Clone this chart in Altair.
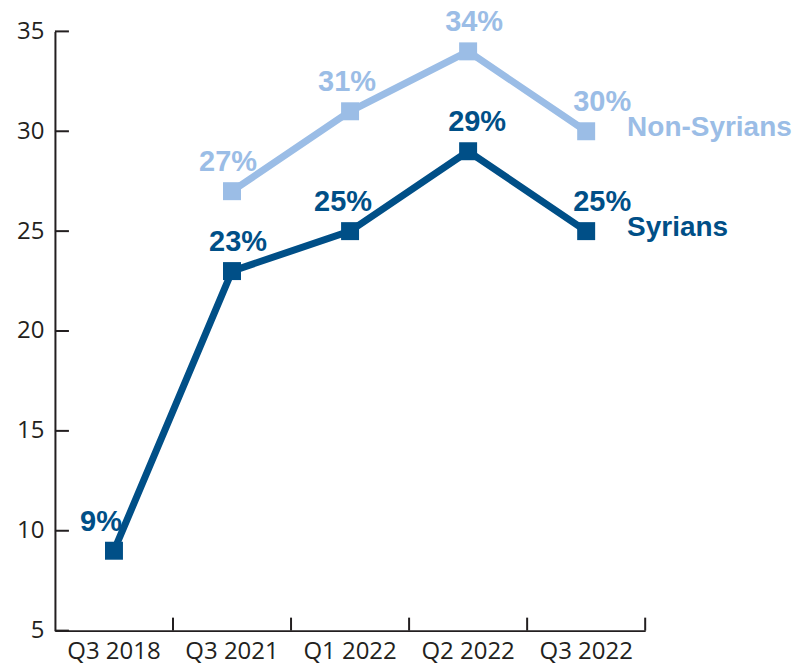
import altair as alt
import pandas as pd

quarters = ["Q3 2018", "Q3 2021", "Q1 2022", "Q2 2022", "Q3 2022"]
syrians = [9, 23, 25, 29, 25]
non_syrians = [None, 27, 31, 34, 30]
syr_label_dx = [-13, 6, -7, 9, 16]
non_label_dx = [0, -4, -3, 6, 16]
y_ticks = [5, 10, 15, 20, 25, 30, 35]
series_names = ["Syrians", "Non-Syrians"]
series_colors = ["#004f87", "#9bbde6"]

rows = []
for i, q in enumerate(quarters):
    rows.append({"quarter": q, "series": "Syrians", "value": syrians[i],
                 "dx": syr_label_dx[i], "last": i == len(quarters) - 1})
    if non_syrians[i] is not None:
        rows.append({"quarter": q, "series": "Non-Syrians", "value": non_syrians[i],
                     "dx": non_label_dx[i], "last": i == len(quarters) - 1})
df = pd.DataFrame(rows)
df["label"] = df["value"].astype(int).astype(str) + "%"
df["key"] = df["series"] + "|" + df["quarter"]

ticks_df = pd.DataFrame({"t": y_ticks})
cats_df = pd.DataFrame({"quarter": quarters})

AX = "#231f20"
xscale = alt.Scale(type="band", domain=quarters, paddingInner=0, paddingOuter=0)
yscale = alt.Scale(domain=[5, 35], nice=False, zero=False)
color = alt.Color("series:N", scale=alt.Scale(domain=series_names, range=series_colors), legend=None)

x_enc = alt.X("quarter:N", scale=xscale, sort=quarters,
              axis=alt.Axis(title=None, ticks=False, tickSize=0, labelFont="Open Sans",
                            labelFontSize=24, labelColor=AX, labelPadding=9,
                            labelAlign="center", labelBaseline="top", bandPosition=0.5,
                            domainColor=AX, domainWidth=2, labelAngle=0))
y_enc = alt.Y("value:Q", scale=yscale,
              axis=alt.Axis(title=None, ticks=False, tickSize=0, values=y_ticks, grid=False,
                            labelFont="Open Sans", labelFontSize=24, labelColor=AX,
                            labelPadding=11, domainColor=AX, domainWidth=2))
xs = alt.X("quarter:N", scale=xscale, sort=quarters)
ys = alt.Y("value:Q", scale=yscale)

base = alt.Chart(df)

lines = base.mark_line(strokeWidth=7).encode(x=x_enc, y=y_enc, color=color, detail="series:N")
points = base.mark_point(shape="square", size=324, filled=True, opacity=1).encode(
    x=xs, y=ys, color=color)

label_layers = []
for _, r in df.iterrows():
    label_layers.append(
        base.transform_filter(alt.datum.key == r["key"]).mark_text(
            font="Liberation Sans", fontWeight="bold", fontSize=29,
            baseline="alphabetic", align="center", dx=int(r["dx"]), dy=-20).encode(
            x=xs, y=ys, color=color, text="label:N"))

names = base.transform_filter("datum.last").mark_text(
    font="Liberation Sans", fontWeight="bold", fontSize=28, baseline="middle",
    align="left", dx=41, dy=-3).encode(x=xs, y=ys, color=color, text="series:N")

ytick_rules = alt.Chart(ticks_df).mark_rule(color=AX, strokeWidth=2).encode(
    y=alt.Y("t:Q", scale=yscale), x=alt.value(0), x2=alt.value(14))
xtick_rules = alt.Chart(cats_df).mark_rule(color=AX, strokeWidth=2).encode(
    x=alt.X("quarter:N", scale=xscale, sort=quarters, bandPosition=1),
    y=alt.value(587), y2=alt.value(600))

chart = alt.layer(lines, ytick_rules, xtick_rules, points, *label_layers, names).properties(
    width=591, height=600, autosize="none",
    padding={"left": 47, "top": 23, "right": 150, "bottom": 34},
).configure_view(stroke=None)

chart.save("out.html", embed_options={"renderer": "svg", "actions": False})
